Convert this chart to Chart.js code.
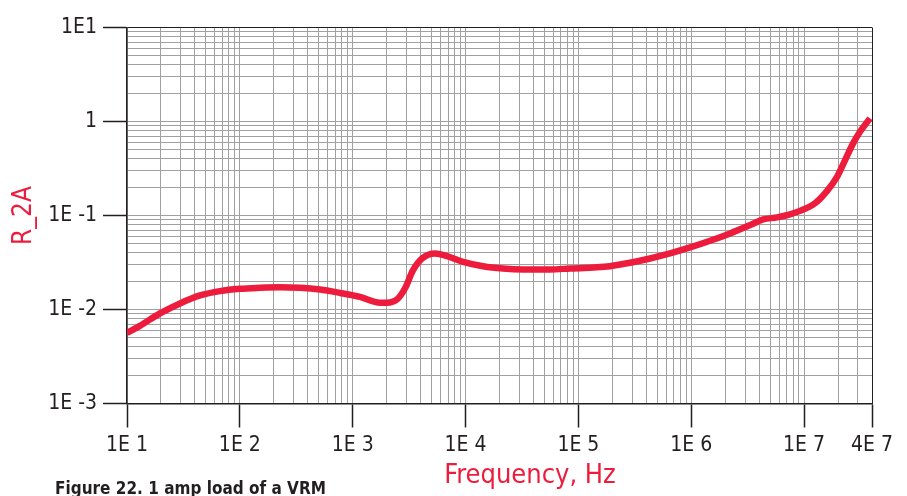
<!DOCTYPE html>
<html>
<head>
<meta charset="utf-8">
<script src="https://cdn.jsdelivr.net/npm/chart.js@4"></script>
<style>
  body { margin: 0; background: #fff; }
  #wrap { position: relative; width: 907px; height: 496px; overflow: hidden; }
  .txt { position: absolute; white-space: nowrap; font-family: 'Liberation Sans Narrow', 'DejaVu Sans Condensed', 'Liberation Sans', sans-serif; }
  #xtitle { left: 530px; top: 460px; transform: translateX(-50%); color: #ee1c3c; font-size: 27px; line-height: 27px; }
  #caption { left: 55px; top: 480px; color: #231f20; font-size: 17px; line-height: 17px; font-weight: bold; }
</style>
</head>
<body>
<div id="wrap">
  <canvas id="grafico" width="907" height="496"></canvas>
  <div class="txt" id="xtitle">Frequency, Hz</div>
  <div class="txt" id="caption">Figure 22. 1 amp load of a VRM</div>
</div>
<script>
const fonte = "'Liberation Sans Narrow', 'DejaVu Sans Condensed', 'Liberation Sans', sans-serif";
const vermelho = '#ee1c3c';
const escuro = '#231f20';

// curva
const freqHz = [10, 13, 19.6, 29.5, 44.4, 66.7, 100, 151, 227, 341, 513, 772, 1161, 1745, 2142, 2522, 2911,
  3427, 4115, 5366, 6857, 9500, 14300, 21500, 32300, 56100, 84400, 146000, 190000, 287000, 431000, 649000,
  976000, 1.47e6, 2.21e6, 3.32e6, 4.33e6, 5.76e6, 7.5e6, 9.2e6, 1.25e7, 1.6e7, 1.96e7, 2.31e7, 2.72e7, 3.13e7, 3.84e7];
const r2A = [0.00564, 0.0067, 0.00908, 0.0116, 0.0141, 0.0157, 0.0166, 0.0170, 0.0172, 0.0170, 0.0163, 0.0150, 0.0136,
  0.0118, 0.0119, 0.0131, 0.0168, 0.0262, 0.0349, 0.0395, 0.0370, 0.0322, 0.0289, 0.0273, 0.0267, 0.0267, 0.0273,
  0.0281, 0.0289, 0.0314, 0.0349, 0.0395, 0.0457, 0.0538, 0.0645, 0.0790, 0.0908, 0.0955, 0.103, 0.112, 0.135,
  0.183, 0.258, 0.389, 0.585, 0.778, 1.08];

// ticks
const xMajor = [10, 100, 1000, 10000, 100000, 1e6, 1e7, 4e7];
const xMajorLabels = ['1E 1', '1E 2', '1E 3', '1E 4', '1E 5', '1E 6', '1E 7', '4E 7'];
const yMajor = [0.001, 0.01, 0.1, 1, 10];
const yMajorLabels = ['1E -3', '1E -2', '1E -1', '1', '1E1'];

function minorTicks(min, max) {
  const out = [];
  for (let d = min; d < max; d *= 10) {
    for (let n = 1; n <= 9; n++) {
      const v = d * n;
      if (v >= min && v <= max) out.push(v);
    }
  }
  if (out.indexOf(max) < 0) out.push(max);
  return out;
}
const xTicks = minorTicks(10, 4e7);
const yTicks = minorTicks(0.001, 10);

function achar(lista, v) {
  return lista.findIndex(m => Math.abs(v / m - 1) < 1e-6);
}

function gradeCor(max) {
  return c => {
    if (c.tick && Math.abs(c.tick.value / max - 1) < 1e-6) return escuro;
    return '#a0a0a0';
  };
}
function tickCor(lista) {
  return c => (c.tick && achar(lista, c.tick.value) >= 0) ? escuro : 'rgba(0,0,0,0)';
}

new Chart(document.getElementById('grafico'), {
  type: 'line',
  data: {
    datasets: [{
      label: 'R_2A',
      data: freqHz.map((f, i) => ({ x: f, y: r2A[i] })),
      borderColor: vermelho,
      borderWidth: 6.5,
      pointRadius: 0,
      cubicInterpolationMode: 'monotone',
      fill: false
    }]
  },
  options: {
    responsive: false,
    animation: false,
    layout: { padding: { top: 27.5, right: 35, bottom: 0, left: 0 } },
    plugins: {
      legend: { display: false },
      tooltip: { enabled: false }
    },
    scales: {
      x: {
        type: 'logarithmic',
        min: 10,
        max: 4e7,
        afterBuildTicks: s => { s.ticks = xTicks.map(v => ({ value: v })); },
        afterFit: s => { s.height = 92.5; },
        ticks: {
          autoSkip: false,
          maxRotation: 0,
          padding: 5,
          color: escuro,
          font: { family: fonte, size: 21 },
          callback: v => { const i = achar(xMajor, v); return i >= 0 ? xMajorLabels[i] : ''; }
        },
        grid: {
          color: gradeCor(4e7),
          lineWidth: 1,
          tickLength: 24,
          tickColor: tickCor(xMajor),
          tickWidth: 1.5
        },
        border: { color: escuro, width: 1.5 }
      },
      y: {
        type: 'logarithmic',
        min: 0.001,
        max: 10,
        afterBuildTicks: s => { s.ticks = yTicks.map(v => ({ value: v })); },
        afterFit: s => { s.width = 127; },
        title: {
          display: true,
          text: 'R_2A',
          color: vermelho,
          font: { family: fonte, size: 26 },
          padding: { top: 9, bottom: 0 }
        },
        ticks: {
          autoSkip: false,
          padding: 6,
          color: escuro,
          font: { family: fonte, size: 21 },
          callback: v => { const i = achar(yMajor, v); return i >= 0 ? yMajorLabels[i] : ''; }
        },
        grid: {
          color: gradeCor(10),
          lineWidth: 1,
          tickLength: 24,
          tickColor: tickCor(yMajor),
          tickWidth: 1.5
        },
        border: { color: escuro, width: 1.5 }
      }
    }
  }
});
</script>
</body>
</html>
